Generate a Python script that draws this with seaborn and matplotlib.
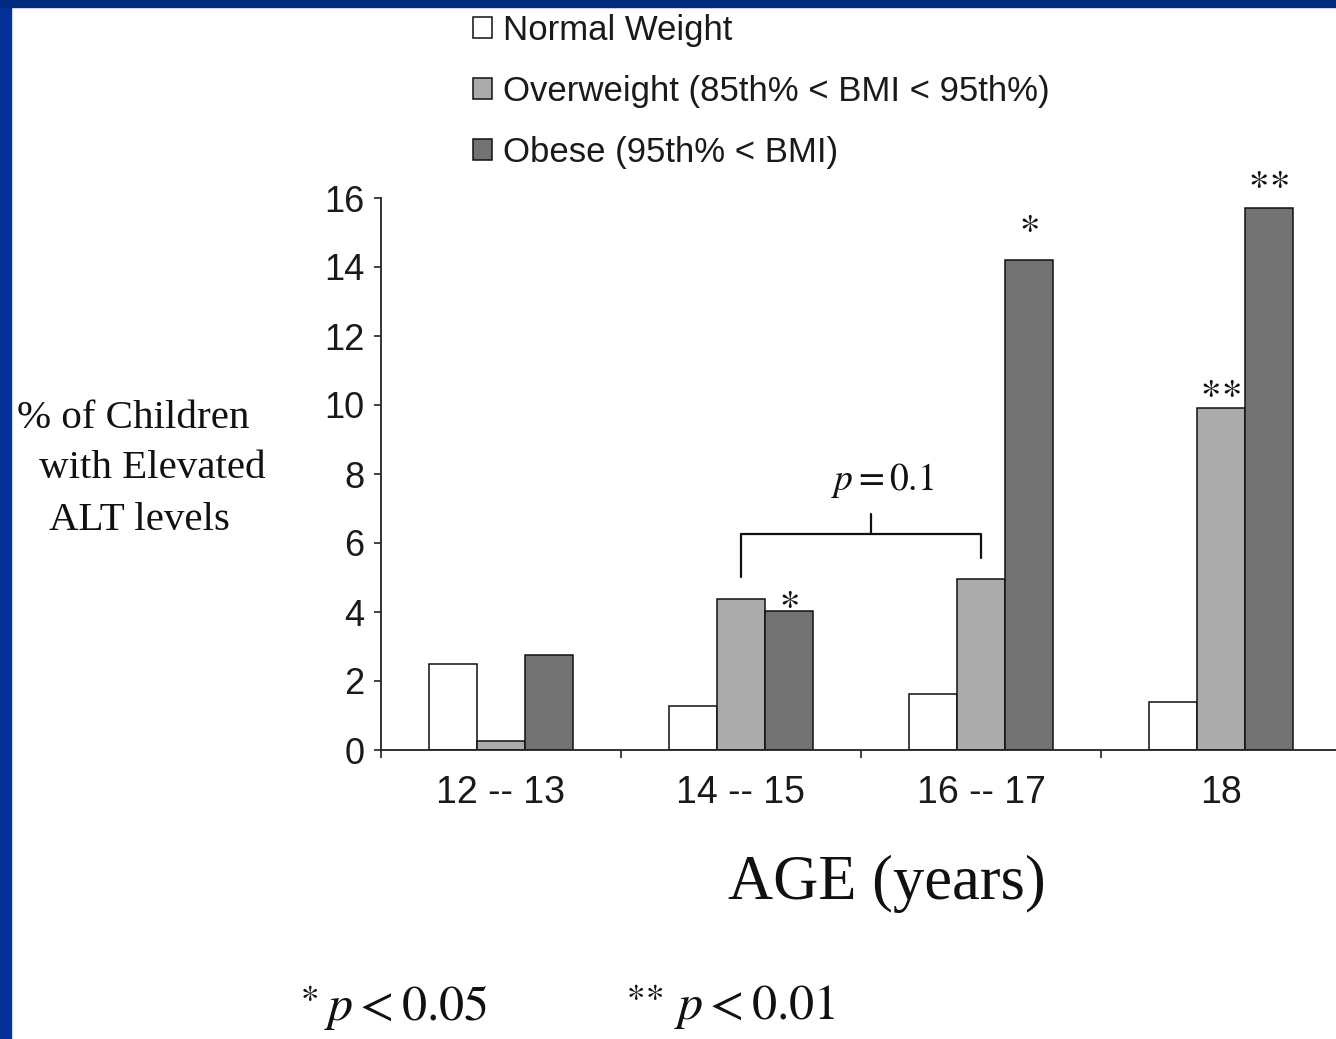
import matplotlib
matplotlib.use("Agg")
import matplotlib.pyplot as plt
import seaborn as sns
import pandas as pd
from matplotlib.patches import Rectangle
from matplotlib.ticker import FixedLocator

# ---- data ----
age_groups = ["12 -- 13", "14 -- 15", "16 -- 17", "18"]
weight_groups = ["Normal Weight",
                 "Overweight (85th% < BMI < 95th%)",
                 "Obese (95th% < BMI)"]
normal_weight = [2.5, 1.27, 1.63, 1.4]
overweight = [0.25, 4.37, 4.95, 9.9]
obese = [2.75, 4.02, 14.2, 15.72]
y_ticks = [0, 2, 4, 6, 8, 10, 12, 14, 16]

# significance markers: (age index, weight index, label)
star_marks = [(1, 2, "*"), (2, 2, "*"), (3, 1, "**"), (3, 2, "**")]
star_offsets = [0.4, 1.1, 0.62, 0.85]

bar_colors = ["#ffffff", "#ababab", "#727272"]

df = pd.DataFrame({
    "age": age_groups * 3,
    "group": [weight_groups[0]] * 4 + [weight_groups[1]] * 4 + [weight_groups[2]] * 4,
    "value": normal_weight + overweight + obese,
})

sns.set_theme(style="white")
plt.rcParams["font.family"] = ["Liberation Sans", "DejaVu Sans"]
plt.rcParams["mathtext.fontset"] = "stix"

W, H = 1336, 1039
fig = plt.figure(figsize=(W / 100, H / 100), dpi=100)
fig.patch.set_facecolor("white")

# blue slide frame
fig.add_artist(Rectangle((0, 0), 11 / W, 1, transform=fig.transFigure,
                         color="#04319a", zorder=10))
fig.add_artist(Rectangle((0, 1 - 7 / H), 1, 7 / H, transform=fig.transFigure,
                         color="#022a7e", zorder=10))

ax_left = 381 / W
ax_bottom = (H - 750) / H
ax_top = (H - 198) / H
ax = fig.add_axes([ax_left, ax_bottom, 1341 / W - ax_left, ax_top - ax_bottom])

sns.barplot(data=df, x="age", y="value", hue="group", order=age_groups,
            hue_order=weight_groups, palette=bar_colors, width=0.6,
            edgecolor="#111111", linewidth=1.1, ax=ax, legend=True)

ax.set_xlim(-0.5, 3.5)
ax.set_ylim(0, 16)
ax.set_yticks(y_ticks)
ax.set_yticklabels([str(t) for t in y_ticks])
ax.set_xlabel("")
ax.set_ylabel("")
for s in ["top", "right"]:
    ax.spines[s].set_visible(False)
for s in ["left", "bottom"]:
    ax.spines[s].set_color("#222222")
    ax.spines[s].set_linewidth(1.3)
ax.set_facecolor("white")

ax.tick_params(axis="y", direction="out", length=5, width=1.2, color="#222222",
               labelsize=26, pad=7, labelcolor="#1a1a1a", left=True)
ax.tick_params(axis="x", which="major", length=0, labelsize=27, pad=18,
               labelcolor="#1a1a1a")
ax.xaxis.set_minor_locator(FixedLocator([-0.5, 0.5, 1.5, 2.5]))
ax.tick_params(axis="x", which="minor", direction="out", length=6, width=1.2,
               color="#222222", bottom=True)

# legend at top
handles, labels = ax.get_legend_handles_labels()
ax.get_legend().remove()
leg = fig.legend(handles, labels, loc="upper left",
                 bbox_to_anchor=(473 / W, 1 - 14 / H), frameon=False,
                 fontsize=25, handlelength=0.55, handleheight=0.55,
                 handletextpad=0.3, labelspacing=0.8, borderpad=0,
                 borderaxespad=0)
for t in leg.get_texts():
    t.set_color("#1a1a1a")

# significance stars
series = [normal_weight, overweight, obese]
offsets = [-0.2, 0.0, 0.2]
for (ai, wi, lab), off in zip(star_marks, star_offsets):
    txt = r"$\ast$" if lab == "*" else r"$\ast\!\ast$"
    ax.text(ai + offsets[wi], series[wi][ai] + off, txt, ha="center",
            va="center", fontsize=28, color="#111111", clip_on=False)

# bracket p = 0.1 between overweight 14-15 and 16-17
x_l, x_r = 1 + offsets[1], 2 + offsets[1]
y_top = 6.25
ax.plot([x_l, x_l, x_r, x_r], [overweight[1] + 0.65, y_top, y_top, overweight[2] + 0.62],
        color="#111111", lw=1.6, clip_on=False)
x_mid = (x_l + x_r) / 2 + 0.04
ax.plot([x_mid, x_mid], [y_top, y_top + 0.6], color="#111111", lw=1.6,
        clip_on=False)
ax.text(x_mid + 0.05, 7.8, r"$p = 0.1$", ha="center", va="center",
        fontsize=27, color="#111111")

# y label (three lines, Times-like)
serif = ["Liberation Serif", "DejaVu Serif"]
for txt, xl, yc in [("% of Children", 17, 419),
                    ("with Elevated", 39, 469),
                    ("ALT levels", 49, 521)]:
    fig.text(xl / W, 1 - yc / H, txt, ha="left", va="center", family=serif,
             fontsize=29.5, color="#111111")

# x label
fig.text(887 / W, 1 - 884 / H, "AGE (years)", ha="center", va="center",
         family=serif, fontsize=45, color="#111111")

# footnotes
fig.text(300 / W, 1 - 1008 / H, r"$^{\ast}\,p < 0.05$", ha="left",
         va="center", fontsize=36, color="#111111")
fig.text(626 / W, 1 - 1008 / H, r"$^{\ast\!\ast}\,p < 0.01$", ha="left",
         va="center", fontsize=36, color="#111111")

fig.savefig("out.png", dpi=100, facecolor="white")
